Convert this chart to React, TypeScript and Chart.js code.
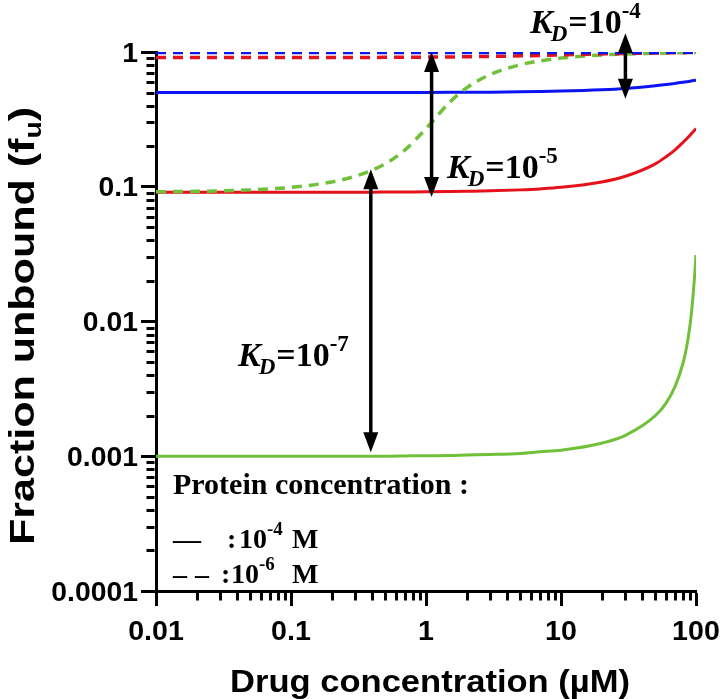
import React, { useEffect, useRef } from 'react';
import { Chart, registerables } from 'chart.js';

Chart.register(...registerables);

// ---- data ----
const drugConc = [0.01, 0.02, 0.03, 0.05, 0.1, 0.2, 0.3, 0.4, 0.5, 0.7, 1, 1.5, 2, 3, 5, 7, 10, 20, 30, 50, 60, 70, 80, 85, 90, 92, 95, 97, 98, 99, 100];

// protein 1e-4 M (solid)
const fuP4KD4 = [0.5, 0.5, 0.5, 0.5, 0.5, 0.5002, 0.5004, 0.5005, 0.5006, 0.5009, 0.5013, 0.5019, 0.5025, 0.5037, 0.5062, 0.5087, 0.5125, 0.525, 0.537, 0.562, 0.573, 0.585, 0.596, 0.602, 0.607, 0.609, 0.613, 0.615, 0.616, 0.617, 0.618];
const fuP4KD5 = [0.0909, 0.0909, 0.0909, 0.0909, 0.091, 0.0911, 0.0912, 0.0912, 0.0913, 0.0915, 0.0917, 0.0921, 0.0925, 0.0932, 0.0948, 0.0964, 0.099, 0.1085, 0.1197, 0.148, 0.167, 0.188, 0.213, 0.226, 0.24, 0.246, 0.255, 0.261, 0.264, 0.267, 0.27];
const fuP4KD7 = [0.001, 0.001, 0.001, 0.001, 0.001, 0.001, 0.001, 0.001, 0.001, 0.001005, 0.00101, 0.001012, 0.00102, 0.00103, 0.00105, 0.00108, 0.00111, 0.00125, 0.00143, 0.002, 0.00248, 0.0033, 0.00488, 0.00639, 0.00915, 0.011, 0.0153, 0.0199, 0.023, 0.0267, 0.0311];

// protein 1e-6 M (dashed)
const fuP6KD4 = [0.99, 0.99, 0.99, 0.99, 0.99, 0.99, 0.99, 0.99, 0.99, 0.99, 0.99, 0.99, 0.99, 0.9902, 0.9905, 0.9907, 0.991, 0.9915, 0.992, 0.9934, 0.994, 0.9943, 0.9946, 0.9947, 0.9948, 0.9949, 0.995, 0.995, 0.995, 0.995, 0.995];
const fuP6KD5 = [0.909, 0.909, 0.909, 0.909, 0.9097, 0.9104, 0.9111, 0.9118, 0.9125, 0.9139, 0.916, 0.919, 0.922, 0.927, 0.936, 0.943, 0.951, 0.967, 0.975, 0.983, 0.9855, 0.9875, 0.989, 0.9895, 0.99, 0.9903, 0.9906, 0.9908, 0.9909, 0.991, 0.991];
const fuP6KD7 = [0.0917, 0.0925, 0.0932, 0.0948, 0.099, 0.1085, 0.1197, 0.133, 0.148, 0.188, 0.27, 0.424, 0.542, 0.682, 0.805, 0.859, 0.901, 0.95, 0.967, 0.978, 0.983, 0.986, 0.9875, 0.988, 0.989, 0.989, 0.9895, 0.9897, 0.9898, 0.99, 0.99];

const xTickDecades = [0.01, 0.1, 1, 10, 100];
const xTickLabels = ['0.01', '0.1', '1', '10', '100'];
const yTickDecades = [0.0001, 0.001, 0.01, 0.1, 1];
const yTickLabels = ['0.0001', '0.001', '0.01', '0.1', '1'];

// K_D arrows (data coordinates) and their labels
const kdExponents = ['-4', '-5', '-7'];
const kdArrowX = [30, 1.1, 0.39];
const kdArrowTop = [1.38, 1.0, 0.135];
const kdArrowBottom = [0.45, 0.084, 0.00107];

const BLUE = '#0a14f5';
const RED = '#e5121c';
const GREEN = '#70c03a';

const SANS = '"Liberation Sans", Arial, sans-serif';
const SERIF = '"Liberation Serif", "Times New Roman", serif';

function minorTicks(decades: number[]) {
  const out: number[] = [];
  for (let i = 0; i < decades.length - 1; i++) {
    for (let k = 1; k <= 9; k++) out.push(decades[i] * k);
  }
  out.push(decades[decades.length - 1]);
  return out;
}
function decadeIndex(v: number, decades: number[]) {
  for (let i = 0; i < decades.length; i++) {
    if (Math.abs(Math.log10(v) - Math.log10(decades[i])) < 1e-6) return i;
  }
  return -1;
}

function stretchText(ctx: CanvasRenderingContext2D, text: string, x: number, y: number, sx: number, align: CanvasTextAlign) {
  ctx.save();
  ctx.translate(x, y);
  ctx.scale(sx, 1);
  ctx.textAlign = align;
  ctx.fillText(text, 0, 0);
  ctx.restore();
}

const overlayPlugin = {
  id: 'overlay',
  afterDraw(chart: any) {
    const ctx: CanvasRenderingContext2D = chart.ctx;
    const xs = chart.scales.x;
    const ys = chart.scales.y;
    const area = chart.chartArea;
    ctx.save();
    // minor ticks
    ctx.strokeStyle = '#000';
    ctx.lineWidth = 3;
    const minorLen = 8;
    xs.ticks.forEach((t: any) => {
      if (decadeIndex(t.value, xTickDecades) >= 0) return;
      const px = Math.round(xs.getPixelForValue(t.value)) + 0.5;
      ctx.beginPath();
      ctx.moveTo(px, area.bottom + 1.5);
      ctx.lineTo(px, area.bottom + 1.5 + minorLen);
      ctx.stroke();
    });
    ys.ticks.forEach((t: any) => {
      if (decadeIndex(t.value, yTickDecades) >= 0) return;
      const py = Math.round(ys.getPixelForValue(t.value)) + 0.5;
      ctx.beginPath();
      ctx.moveTo(area.left - 1.5, py);
      ctx.lineTo(area.left - 1.5 - minorLen, py);
      ctx.stroke();
    });

    ctx.fillStyle = '#000';
    // tick labels
    ctx.font = `bold 27px ${SANS}`;
    ctx.textBaseline = 'alphabetic';
    yTickDecades.forEach((v, i) => {
      const py = ys.getPixelForValue(v);
      stretchText(ctx, yTickLabels[i], 138, py + 9.5, 1.05, 'right');
    });
    xTickDecades.forEach((v, i) => {
      const px = xs.getPixelForValue(v);
      stretchText(ctx, xTickLabels[i], px, 640, 1.06, 'center');
    });

    // axis titles
    ctx.font = `bold 32px ${SANS}`;
    stretchText(ctx, 'Drug concentration (µM)', (area.left + area.right) / 2 + 4, 692, 1.08, 'center');

    ctx.save();
    ctx.translate(34, 326);
    ctx.rotate(-Math.PI / 2);
    ctx.scale(1.23, 1);
    ctx.textAlign = 'left';
    const main = 'Fraction unbound (f';
    ctx.font = `bold 35px ${SANS}`;
    const wMain = ctx.measureText(main).width;
    ctx.font = `bold 23px ${SANS}`;
    const wSub = ctx.measureText('u').width;
    ctx.font = `bold 35px ${SANS}`;
    const wClose = ctx.measureText(')').width;
    const total = wMain + wSub + wClose;
    let cx = -total / 2;
    ctx.fillText(main, cx, 0);
    cx += wMain;
    ctx.font = `bold 23px ${SANS}`;
    ctx.fillText('u', cx, 7);
    cx += wSub;
    ctx.font = `bold 35px ${SANS}`;
    ctx.fillText(')', cx, 0);
    ctx.restore();

    // arrows
    const head = 20;
    const half = 7.5;
    for (let i = 0; i < kdArrowX.length; i++) {
      const px = xs.getPixelForValue(kdArrowX[i]);
      const y1 = ys.getPixelForValue(kdArrowTop[i]);
      const y2 = ys.getPixelForValue(kdArrowBottom[i]);
      ctx.lineWidth = 3.5;
      ctx.beginPath();
      ctx.moveTo(px, y1 + head - 2);
      ctx.lineTo(px, y2 - head + 2);
      ctx.stroke();
      ctx.beginPath();
      ctx.moveTo(px, y1);
      ctx.lineTo(px - half, y1 + head);
      ctx.lineTo(px + half, y1 + head);
      ctx.closePath();
      ctx.fill();
      ctx.beginPath();
      ctx.moveTo(px, y2);
      ctx.lineTo(px - half, y2 - head);
      ctx.lineTo(px + half, y2 - head);
      ctx.closePath();
      ctx.fill();
    }

    // K_D labels
    const kdPos = [[530, 33], [447, 178], [238, 366]];
    ctx.textAlign = 'left';
    for (let i = 0; i < kdExponents.length; i++) {
      let x = kdPos[i][0];
      const y = kdPos[i][1];
      ctx.font = `italic bold 34px ${SERIF}`;
      ctx.fillText('K', x, y);
      x += ctx.measureText('K').width - 2;
      ctx.font = `italic bold 23px ${SERIF}`;
      ctx.fillText('D', x, y + 8);
      x += ctx.measureText('D').width + 1;
      ctx.font = `bold 34px ${SERIF}`;
      ctx.fillText('=10', x, y);
      x += ctx.measureText('=10').width;
      ctx.font = `bold 23px ${SERIF}`;
      ctx.fillText(kdExponents[i], x, y - 15);
    }

    // protein concentration legend
    ctx.font = `bold 30px ${SERIF}`;
    ctx.fillText('Protein concentration :', 173, 494);
    ctx.font = `bold 28px ${SERIF}`;
    ctx.fillText('—', 173, 548);
    ctx.fillText(':', 227, 548);
    ctx.fillText('10', 239, 548);
    ctx.font = `bold 19px ${SERIF}`;
    ctx.fillText('-4', 267, 535);
    ctx.font = `bold 28px ${SERIF}`;
    ctx.fillText('M', 292, 548);
    ctx.fillText('–', 173, 583);
    ctx.fillText('–', 195, 583);
    ctx.fillText(':', 221, 583);
    ctx.fillText('10', 231, 583);
    ctx.font = `bold 19px ${SERIF}`;
    ctx.fillText('-6', 259, 570);
    ctx.font = `bold 28px ${SERIF}`;
    ctx.fillText('M', 292, 583);

    ctx.restore();
  },
};

export default function App() {
  const ref = useRef<HTMLCanvasElement | null>(null);
  useEffect(() => {
    if (!ref.current) return;
    const mk = (data: number[], color: string, dashed: boolean, order: number) => ({
      data: drugConc.map((x, i) => ({ x, y: data[i] })),
      borderColor: color,
      backgroundColor: color,
      borderWidth: dashed ? 3.5 : 3,
      borderDash: dashed ? [10, 7] : [],
      pointRadius: 0,
      cubicInterpolationMode: 'monotone' as const,
      fill: false,
      order,
    });
    const chart = new Chart(ref.current, {
      type: 'line',
      data: {
        datasets: [
          mk(fuP6KD4, BLUE, true, 0),
          mk(fuP6KD5, RED, true, 1),
          mk(fuP6KD7, GREEN, true, 2),
          mk(fuP4KD4, BLUE, false, 3),
          mk(fuP4KD5, RED, false, 4),
          mk(fuP4KD7, GREEN, false, 5),
        ],
      },
      options: {
        animation: false,
        responsive: true,
        maintainAspectRatio: false,
        layout: { padding: { top: 52, right: 25, left: 0, bottom: 0 } },
        plugins: { legend: { display: false }, tooltip: { enabled: false } },
        scales: {
          x: {
            type: 'logarithmic',
            min: 0.01,
            max: 100,
            afterBuildTicks: (s: any) => {
              s.ticks = minorTicks(xTickDecades).map((v) => ({ value: v }));
            },
            afterFit: (s: any) => {
              s.height = 108;
            },
            ticks: { display: false, autoSkip: false },
            grid: {
              drawOnChartArea: false,
              drawTicks: true,
              tickLength: 15,
              tickWidth: 3,
              tickColor: (c: any) => (c.tick && decadeIndex(c.tick.value, xTickDecades) >= 0 ? '#000' : 'rgba(0,0,0,0)'),
            },
            border: { display: true, color: '#000', width: 3 },
          },
          y: {
            type: 'logarithmic',
            min: 0.0001,
            max: 1,
            afterBuildTicks: (s: any) => {
              s.ticks = minorTicks(yTickDecades).map((v) => ({ value: v }));
            },
            afterFit: (s: any) => {
              s.width = 156;
            },
            ticks: { display: false, autoSkip: false },
            grid: {
              drawOnChartArea: false,
              drawTicks: true,
              tickLength: 15,
              tickWidth: 3,
              tickColor: (c: any) => (c.tick && decadeIndex(c.tick.value, yTickDecades) >= 0 ? '#000' : 'rgba(0,0,0,0)'),
            },
            border: { display: true, color: '#000', width: 3 },
          },
        },
      },
      plugins: [overlayPlugin],
    } as any);
    return () => chart.destroy();
  }, []);
  return (
    <div style={{ position: 'absolute', left: 0, top: 0, width: 721, height: 699, background: '#fff' }}>
      <canvas ref={ref} />
    </div>
  );
}
